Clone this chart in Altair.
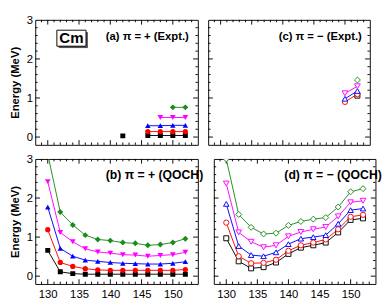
import altair as alt
import pandas as pd

# ---------------- data ----------------
SERIES = ["s1", "s2", "s3", "s4", "s5"]
COLORS = ["#000000", "#ff0000", "#0000ff", "#ff00ff", "#1a8c1a"]
SHAPES = ["square", "circle", "triangle-up", "triangle-down", "diamond"]
SIZES = [28, 40, 45, 45, 50]

X_EVEN = [130, 132, 134, 136, 138, 140, 142, 144, 146, 148, 150, 152]

# (a) pi = + (Expt.)
a_s1_x = [142, 146, 148, 150, 152]
a_s1_y = [0.03, 0.04, 0.04, 0.04, 0.04]
a_s1_seg = [0, 1, 1, 1, 1]
a_s2_x = [146, 148, 150, 152]
a_s2_y = [0.14, 0.14, 0.14, 0.14]
a_s3_x = [146, 148, 150, 152]
a_s3_y = [0.29, 0.29, 0.30, 0.30]
a_s4_x = [148, 150, 152]
a_s4_y = [0.50, 0.50, 0.50]
a_s5_x = [150, 152]
a_s5_y = [0.76, 0.76]

# (b) pi = + (QOCH)
b_s1 = [0.66, 0.11, 0.065, 0.05, 0.05, 0.05, 0.05, 0.05, 0.05, 0.05, 0.05, 0.05]
b_s2 = [1.19, 0.35, 0.25, 0.19, 0.16, 0.15, 0.15, 0.15, 0.15, 0.15, 0.15, 0.17]
b_s3 = [1.77, 0.71, 0.51, 0.41, 0.38, 0.35, 0.33, 0.32, 0.31, 0.31, 0.33, 0.37]
b_s4 = [2.42, 1.12, 0.88, 0.70, 0.62, 0.59, 0.55, 0.54, 0.51, 0.53, 0.55, 0.61]
b_s5 = [3.12, 1.64, 1.31, 1.05, 0.94, 0.91, 0.86, 0.84, 0.79, 0.81, 0.86, 0.96]

# (c) pi = - (Expt.)
c_s1_x = [152]
c_s1_y = [1.06]
c_s2_x = [150, 152]
c_s2_y = [0.90, 1.10]
c_s3_x = [150, 152]
c_s3_y = [0.98, 1.18]
c_s4_x = [150, 152]
c_s4_y = [1.12, 1.30]
c_s5_x = [152]
c_s5_y = [1.46]

# (d) pi = - (QOCH)
d_s1 = [0.97, 0.38, 0.20, 0.23, 0.35, 0.57, 0.73, 0.79, 0.86, 1.12, 1.44, 1.48]
d_s2 = [1.37, 0.51, 0.33, 0.34, 0.42, 0.65, 0.79, 0.86, 0.94, 1.20, 1.52, 1.57]
d_s3 = [1.85, 0.77, 0.54, 0.51, 0.61, 0.82, 0.96, 1.00, 1.05, 1.34, 1.69, 1.73]
d_s4 = [2.37, 1.12, 0.88, 0.74, 0.79, 1.02, 1.13, 1.20, 1.26, 1.53, 1.89, 1.93]
d_s5 = [3.00, 1.58, 1.25, 1.08, 1.10, 1.30, 1.40, 1.46, 1.50, 1.77, 2.16, 2.24]

LABELS = ["(a) π = + (Expt.)", "(b) π = + (QOCH)", "(c) π = − (Expt.)", "(d) π = − (QOCH)"]

X_MAJOR = [130, 135, 140, 145, 150]
X_MINOR = [v for v in range(129, 154) if v not in X_MAJOR]
Y_LABELS = [0, 1, 2, 3]
Y_MAJOR = [0, 1, 2]
Y_MINOR = [0.2, 0.4, 0.6, 0.8, 1.2, 1.4, 1.6, 1.8, 2.2, 2.4, 2.6, 2.8]

FONT = "Liberation Sans"
H = 133
W_L = 173
W_R = 172


def frame(xs_list, ys_list, segs=None):
    rows = []
    for i, (xs, ys) in enumerate(zip(xs_list, ys_list)):
        for j, (xv, yv) in enumerate(zip(xs, ys)):
            seg = segs[i][j] if segs and segs[i] is not None else 0
            rows.append({"x": xv, "y": yv, "s": SERIES[i], "seg": f"{SERIES[i]}_{seg}"})
    return pd.DataFrame(rows)


df_a = frame([a_s1_x, a_s2_x, a_s3_x, a_s4_x, a_s5_x],
             [a_s1_y, a_s2_y, a_s3_y, a_s4_y, a_s5_y],
             [a_s1_seg, None, None, None, None])
df_b = frame([X_EVEN] * 5, [b_s1, b_s2, b_s3, b_s4, b_s5])
df_c = frame([c_s1_x, c_s2_x, c_s3_x, c_s4_x, c_s5_x],
             [c_s1_y, c_s2_y, c_s3_y, c_s4_y, c_s5_y])
df_d = frame([X_EVEN] * 5, [d_s1, d_s2, d_s3, d_s4, d_s5])

color_scale = alt.Scale(domain=SERIES, range=COLORS)
shape_scale = alt.Scale(domain=SERIES, range=SHAPES)
size_scale = alt.Scale(domain=SERIES, range=SIZES)


def make_panel(df, open_marker, label, label_size, w, show_x, show_y, cm=False):
    xs = alt.Scale(domain=[128, 154], nice=False, zero=False)
    ys = alt.Scale(domain=[-0.2, 3], nice=False, zero=False)
    if show_x:
        xaxis = alt.Axis(values=X_MAJOR, title=None, ticks=False, tickSize=0, domain=False,
                         grid=False, labelFontSize=12, labelPadding=5, format="d",
                         labelFont=FONT, labelColor="black")
    else:
        xaxis = None
    if show_y:
        yaxis = alt.Axis(values=Y_LABELS, title="Energy (MeV)", ticks=False, tickSize=0,
                         domain=False, grid=False, labelFontSize=12, labelPadding=3,
                         titleFontSize=12, titleFontWeight="bold", titlePadding=5,
                         labelFont=FONT, titleFont=FONT, labelColor="black", titleColor="black")
    else:
        yaxis = None

    def X(f):
        return alt.X(f, type="quantitative", scale=xs, axis=xaxis)

    def Y(f):
        return alt.Y(f, type="quantitative", scale=ys, axis=yaxis)

    base = alt.Chart(df)
    lines = base.mark_line(strokeWidth=1, clip=True).encode(
        x=X("x"), y=Y("y"),
        color=alt.Color("s:N", scale=color_scale, legend=None),
        detail="seg:N",
    )
    if open_marker:
        pm = dict(filled=False, fill="white", strokeWidth=1, opacity=1, clip=True)
    else:
        pm = dict(filled=True, opacity=1, clip=True)
    pts = base.mark_point(**pm).encode(
        x=X("x"), y=Y("y"),
        color=alt.Color("s:N", scale=color_scale, legend=None),
        shape=alt.Shape("s:N", scale=shape_scale, legend=None),
        size=alt.Size("s:N", scale=size_scale, legend=None),
    )

    xmaj = pd.DataFrame({"t": X_MAJOR})
    xmin = pd.DataFrame({"t": X_MINOR})
    ymaj = pd.DataFrame({"t": Y_MAJOR})
    ymin = pd.DataFrame({"t": Y_MINOR})
    rk = dict(color="black", strokeWidth=1)
    ticks = [
        alt.Chart(xmaj).mark_rule(**rk).encode(x=X("t"), y=alt.value(H), y2=alt.value(H - 5)),
        alt.Chart(xmaj).mark_rule(**rk).encode(x=X("t"), y=alt.value(0), y2=alt.value(5)),
        alt.Chart(xmin).mark_rule(**rk).encode(x=X("t"), y=alt.value(H), y2=alt.value(H - 2.5)),
        alt.Chart(xmin).mark_rule(**rk).encode(x=X("t"), y=alt.value(0), y2=alt.value(2.5)),
        alt.Chart(ymaj).mark_rule(**rk).encode(y=Y("t"), x=alt.value(0), x2=alt.value(5)),
        alt.Chart(ymaj).mark_rule(**rk).encode(y=Y("t"), x=alt.value(w), x2=alt.value(w - 5)),
        alt.Chart(ymin).mark_rule(**rk).encode(y=Y("t"), x=alt.value(0), x2=alt.value(2.5)),
        alt.Chart(ymin).mark_rule(**rk).encode(y=Y("t"), x=alt.value(w), x2=alt.value(w - 2.5)),
    ]

    txt = alt.Chart(pd.DataFrame({"t": [label]})).mark_text(
        align="left", baseline="middle", fontWeight="bold", fontSize=label_size, font=FONT, color="black"
    ).encode(x=alt.value(75), y=alt.value(17), text="t:N")

    layers = ticks + [lines, pts, txt]

    if cm:
        cmdf = pd.DataFrame({"t": ["Cm"]})
        shadow = alt.Chart(cmdf).mark_rect(color="#555555").encode(
            x=alt.value(25), x2=alt.value(56), y=alt.value(13), y2=alt.value(30))
        box = alt.Chart(cmdf).mark_rect(fill="white", stroke="black", strokeWidth=1).encode(
            x=alt.value(23), x2=alt.value(54), y=alt.value(11), y2=alt.value(28))
        cmt = alt.Chart(cmdf).mark_text(
            align="center", baseline="middle", fontWeight="bold", fontSize=16, font=FONT, color="black"
        ).encode(x=alt.value(38.5), y=alt.value(20), text="t:N")
        layers += [shadow, box, cmt]

    return alt.layer(*layers).properties(width=w, height=H)


pa = make_panel(df_a, False, LABELS[0], 12, W_L, show_x=False, show_y=True, cm=True)
pc = make_panel(df_c, True, LABELS[2], 12, W_R, show_x=False, show_y=False)
pb = make_panel(df_b, False, LABELS[1], 13, W_L, show_x=True, show_y=True)
pd_ = make_panel(df_d, True, LABELS[3], 13, W_R, show_x=True, show_y=False)

chart = alt.vconcat(
    alt.hconcat(pa, pc, spacing=9),
    alt.hconcat(pb, pd_, spacing=9),
    spacing=7,
).configure_view(stroke="black", strokeWidth=1).properties(
    padding={"left": 0, "top": -4, "right": 0, "bottom": 0}
)

chart.save("out.html", embed_options={"renderer": "svg", "actions": False})
